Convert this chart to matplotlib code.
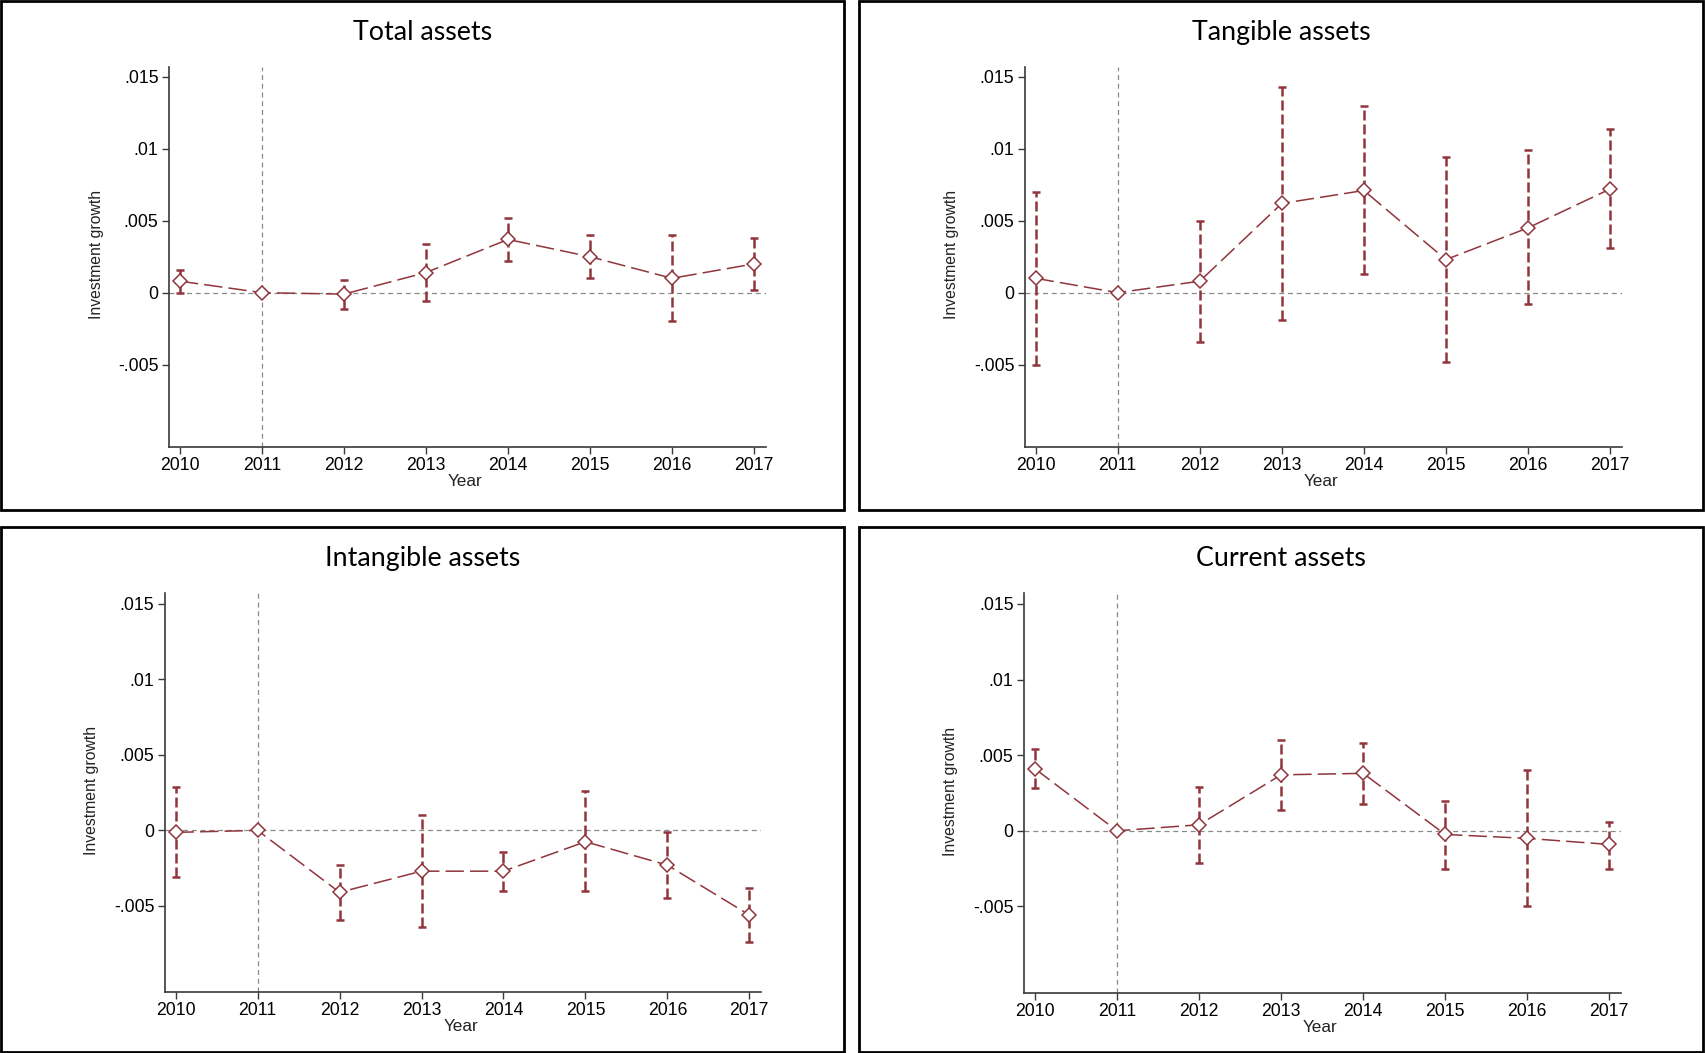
import matplotlib
matplotlib.use("Agg")
import matplotlib.pyplot as plt
from matplotlib.patches import Rectangle
import numpy as np

years = [2010, 2011, 2012, 2013, 2014, 2015, 2016, 2017]
titles = ["Total assets", "Tangible assets", "Intangible assets", "Current assets"]
ytick_vals = [-0.005, 0, 0.005, 0.01, 0.015]
ytick_labels = ["-.005", "0", ".005", ".01", ".015"]

# point estimates (2011 = reference year)
total_est = [0.0008, 0.0, -0.0001, 0.0014, 0.0037, 0.0025, 0.0010, 0.0020]
total_lo = [0.0000, None, -0.0011, -0.0006, 0.0022, 0.0010, -0.0020, 0.0002]
total_hi = [0.0016, None, 0.0009, 0.0034, 0.0052, 0.0040, 0.0040, 0.0038]

tang_est = [0.0010, 0.0, 0.0008, 0.0062, 0.0071, 0.0023, 0.0045, 0.0072]
tang_lo = [-0.0050, None, -0.0034, -0.0019, 0.0013, -0.0048, -0.0008, 0.0031]
tang_hi = [0.0070, None, 0.0050, 0.0143, 0.0130, 0.0094, 0.0099, 0.0114]

intang_est = [-0.00013, 0.0, -0.0041, -0.0027, -0.0027, -0.00075, -0.0023, -0.0056]
intang_lo = [-0.0031, None, -0.0059, -0.0064, -0.0040, -0.0040, -0.0045, -0.0074]
intang_hi = [0.0029, None, -0.0023, 0.0010, -0.0014, 0.0026, -0.0001, -0.0038]

curr_est = [0.0041, 0.0, 0.0004, 0.0037, 0.0038, -0.00024, -0.0005, -0.0009]
curr_lo = [0.0028, None, -0.0021, 0.0014, 0.0018, -0.0025, -0.0050, -0.0025]
curr_hi = [0.0054, None, 0.0029, 0.0060, 0.0058, 0.0020, 0.0040, 0.0006]

series = [(total_est, total_lo, total_hi), (tang_est, tang_lo, tang_hi),
          (intang_est, intang_lo, intang_hi), (curr_est, curr_lo, curr_hi)]

W, H = 1705, 1053
fig = plt.figure(figsize=(W / 100, H / 100), dpi=100)

def fx(px):
    return px / W

def fy(py):
    return 1 - py / H

# axes boxes in pixels: left, right, top, bottom
boxes = [(169, 765.7, 66.7, 446.7), (1024.7, 1621.7, 66.7, 446.7),
         (164.7, 761, 593.3, 992), (1024, 1621, 593.3, 992.7)]
# panel frames: x0, x1, y0, y1
frames = [(1, 844, 1, 510), (859, 1703, 1, 510), (1, 844, 527, 1052), (859, 1703, 527, 1052)]

col = "#90353B"
tickfont = "Liberation Sans"

for i, ((est, lo, hi), title, box, fr) in enumerate(zip(series, titles, boxes, frames)):
    l, r, t, b = box
    ax = fig.add_axes([fx(l), fy(b), fx(r) - fx(l), fy(t) - fy(b)])
    ax.set_xlim(2009.866, 2017.143)
    ax.set_ylim(-0.0107, 0.0157)
    ax.axhline(0, color="#8a8a8a", lw=0.9, ls=(0, (4, 3)), zorder=1)
    ax.axvline(2011, color="#8a8a8a", lw=0.9, ls=(0, (4, 3)), zorder=1)

    ex = [y for y, a in zip(years, lo) if a is not None]
    elo = np.array([a for a in lo if a is not None])
    ehi = np.array([a for a in hi if a is not None])
    emid = (elo + ehi) / 2
    eb = ax.errorbar(ex, emid, yerr=[emid - elo, ehi - emid], fmt="none",
                     ecolor=col, elinewidth=1.8, capsize=3, capthick=1.8, zorder=2)
    for lc in eb[2]:
        lc.set_linestyle((0, (4, 1.6)))

    ax.plot(years, est, color=col, lw=1.1, dashes=(12, 4), marker="D",
            markersize=6.8, markerfacecolor="white", markeredgecolor=col,
            markeredgewidth=1.1, zorder=3)

    for s in ["top", "right"]:
        ax.spines[s].set_visible(False)
    for s in ["left", "bottom"]:
        ax.spines[s].set_color("#3a3a3a")
        ax.spines[s].set_linewidth(1.2)
    ax.set_xticks(years)
    ax.set_xticklabels([str(y) for y in years], fontfamily=tickfont, fontsize=12.7)
    ax.set_yticks(ytick_vals)
    ax.set_yticklabels(ytick_labels, fontfamily=tickfont, fontsize=12.7)
    ax.tick_params(axis="both", length=5, width=1.0, color="#3a3a3a", pad=2.5)
    ax.patch.set_alpha(0)

    # titles and axis labels
    cx = (fr[0] + fr[1]) / 2
    fig.text(fx(cx), fy(fr[2] + 31.5), title, ha="center", va="center",
             fontfamily="Lato", fontsize=19.3, color="black")
    fig.text(fx((l + r) / 2 - 2), fy(b + 34.5), "Year", ha="center", va="center",
             fontfamily=tickfont, fontsize=12.3, color="#222222")
    fig.text(fx(l - 73), fy((t + b) / 2 - 2), "Investment growth", ha="center",
             va="center", rotation=90, fontfamily=tickfont, fontsize=11.3,
             color="#222222")

    fig.patches.append(Rectangle((fx(fr[0]), fy(fr[3])), fx(fr[1]) - fx(fr[0]),
                                 fy(fr[2]) - fy(fr[3]), transform=fig.transFigure,
                                 fill=False, edgecolor="black", lw=2.0))

fig.savefig("out.png", dpi=100, facecolor="white")
